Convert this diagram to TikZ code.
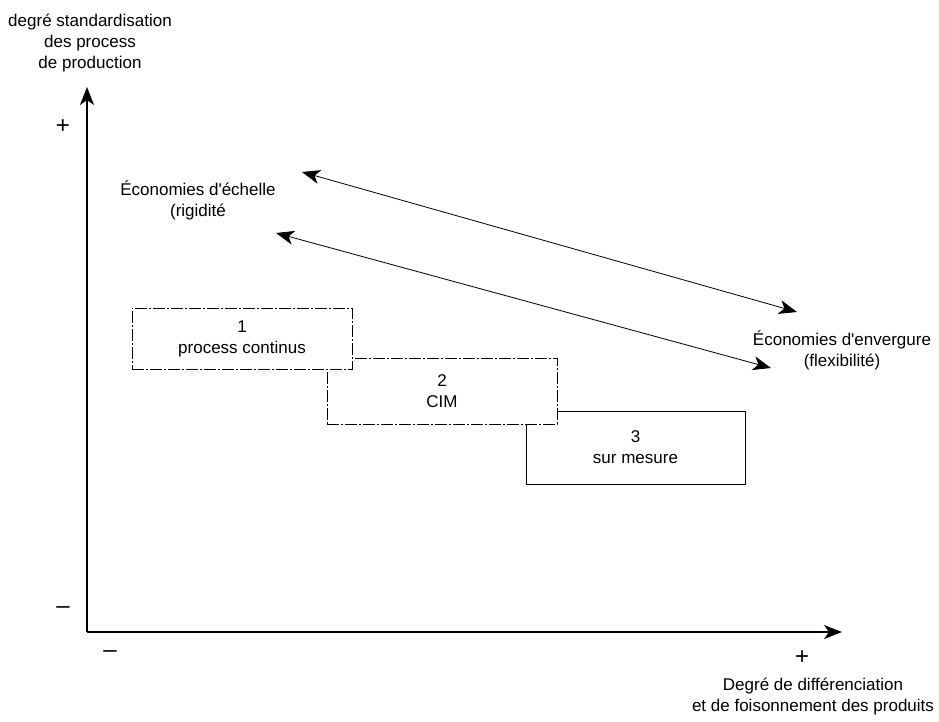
\documentclass[tikz,border=0pt]{standalone}
\usepackage{fontspec}
\setmainfont{Liberation Sans}
\usepackage{tikz}
\usetikzlibrary{arrows.meta,positioning}

\begin{document}
\begin{tikzpicture}[x=1pt,y=-1pt,>={Stealth[length=18pt,width=14pt,inset=5pt]},
  every node/.style={font=\fontsize{17}{21}\selectfont,align=center,inner sep=0pt},
  prodbox/.style={draw,fill=white,line width=0.7pt},
  boxdash/.style={dash pattern=on 12pt off 2pt on 2pt off 2pt},
  signe/.style={font=\fontsize{24}{24}\selectfont}]
\useasboundingbox (0,0) rectangle (939,722);
% axes
\coordinate (orig) at (87,632);
\coordinate (ytip) at (87,87);
\coordinate (xtip) at (842,632);
\draw[->,line width=1.3pt] (orig) -- (ytip);
\draw[->,line width=1.3pt] (orig) -- (xtip);
\node (ylab) at (90,43) {degré standardisation\\des process\\de production};
\node (xlab) at (813,696) {Degré de différenciation\\et de foisonnement des produits};
\node[signe] (yplus) at (63,127) {+};
\node[signe] (yminus) at (63,610) {–};
\node[signe] (xminus) at (110,654) {–};
\node[signe] (xplus) at (802,658) {+};
% economies
\node (echelle) at (198,200) {Économies d\textquotesingle échelle\\(rigidité};
\node (envergure) at (842,350) {Économies d\textquotesingle envergure\\(flexibilité)};
\coordinate (echA) at (302,172);
\coordinate (envA) at (797,312);
\coordinate (echB) at (276,233);
\coordinate (envB) at (771,368);
\draw[<->,line width=0.8pt] (echA) -- (envA);
\draw[<->,line width=0.8pt] (echB) -- (envB);
% process types
\node[prodbox,minimum width=219pt,minimum height=73pt] (mesure) at (635.5,447.5) {3\\sur mesure};
\node[prodbox,boxdash,minimum width=230pt,minimum height=66pt] (cim) at (442,391) {2\\CIM};
\node[prodbox,boxdash,minimum width=220pt,minimum height=61pt] (continu) at (242,338.5) {1\\process continus};
\end{tikzpicture}
\end{document}
